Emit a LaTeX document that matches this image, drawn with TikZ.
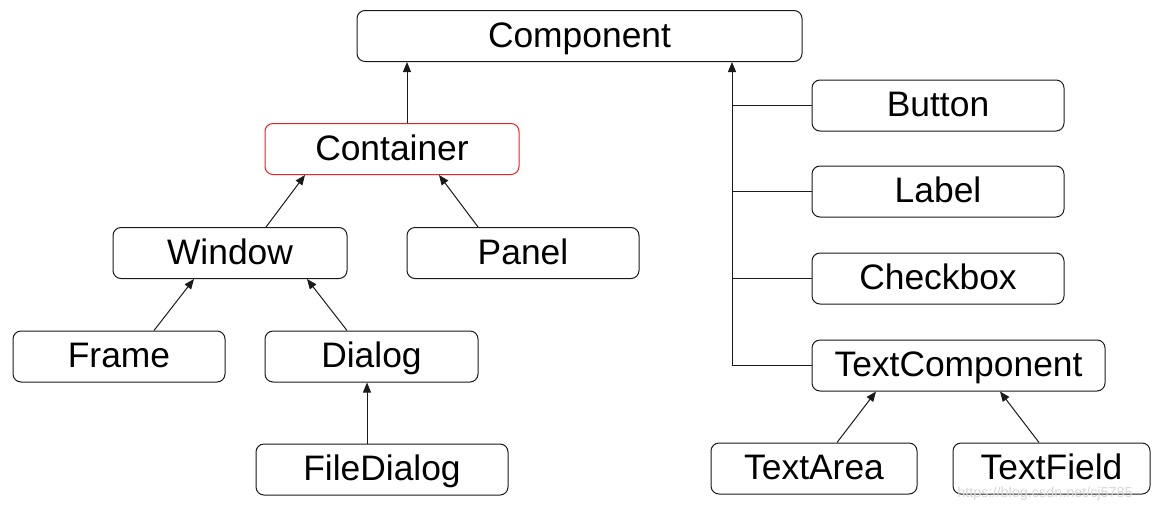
\documentclass[tikz,border=0pt]{standalone}
\usepackage{fontspec}
\setmainfont{Liberation Sans}
\usepackage{xcolor}
\usetikzlibrary{arrows.meta,calc}
\definecolor{boxline}{HTML}{1A1A1A}
\definecolor{hilite}{HTML}{F02020}
\definecolor{markgray}{HTML}{D8D8D8}

\tikzset{
  cls/.style={rounded corners=4pt,draw=boxline,line width=0.5pt,fill=white,
              minimum height=25.5pt,inner sep=0pt,text height=12.8pt,text depth=1.8pt,
              font=\fontsize{17.7}{20}\selectfont},
  arr/.style={-{Triangle[length=5pt,width=4pt]},line width=0.5pt,draw=boxline},
  bus/.style={line width=0.5pt,draw=boxline}
}

\begin{document}
\begin{tikzpicture}[x=0.5pt,y=-0.5pt]
    \useasboundingbox (0,0) rectangle (1161,509);
    % class boxes
    \node[cls,minimum width=222.5pt] (component) at (579.5,36) {Component};
    \node[cls,minimum width=127pt,draw=hilite] (container) at (392,149) {Container};
    \node[cls,minimum width=117pt] (window) at (230,253) {Window};
    \node[cls,minimum width=116pt] (panel) at (523,253) {Panel};
    \node[cls,minimum width=106pt] (frame) at (119,356.5) {Frame};
    \node[cls,minimum width=106.5pt] (dialog) at (371.5,356.5) {Dialog};
    \node[cls,minimum width=126pt] (filedialog) at (382,469.5) {FileDialog};
    \node[cls,minimum width=126pt] (button) at (938,105.5) {Button};
    \node[cls,minimum width=126pt] (label) at (938,191.5) {Label};
    \node[cls,minimum width=126pt] (checkbox) at (938,278.5) {Checkbox};
    \node[cls,minimum width=146.5pt] (textcomp) at (958.5,365.5) {TextComponent};
    \node[cls,minimum width=103pt] (textarea) at (814,468.5) {TextArea};
    \node[cls,minimum width=98.5pt] (textfield) at (1051.5,468.5) {TextField};

    % left tree
    \draw[arr] ([xshift=7.5pt]container.north) -- ([xshift=7.5pt]container.north |- component.south);
    \draw[arr] ([xshift=18pt]window.north) -- ([xshift=-43.5pt]container.south);
    \draw[arr] ([xshift=-22.5pt]panel.north) -- ([xshift=23.5pt]container.south);
    \draw[arr] ([xshift=17.5pt]frame.north) -- ([xshift=-18pt]window.south);
    \draw[arr] ([xshift=-12.25pt]dialog.north) -- ([xshift=38.5pt]window.south);
    \draw[arr] ([xshift=-2.25pt]dialog.south |- filedialog.north) -- ([xshift=-2.25pt]dialog.south);

    % right bus
    \coordinate (top) at ([xshift=76.25pt]component.south);
    \draw[arr] (top |- textcomp.west) -- (top);
    \draw[bus] (top |- button.west) -- (button.west);
    \draw[bus] (top |- label.west) -- (label.west);
    \draw[bus] (top |- checkbox.west) -- (checkbox.west);
    \draw[bus] (top |- textcomp.west) -- (textcomp.west);
    \draw[arr] ([xshift=11.5pt]textarea.north) -- ([xshift=-41.25pt]textcomp.south);
    \draw[arr] ([xshift=-6.25pt]textfield.north) -- ([xshift=20.75pt]textcomp.south);

    % watermark
    \node[anchor=base west,inner sep=0pt,text=markgray,font=\fontsize{7.2}{8}\selectfont] (mark) at (957,497) {https://blog.csdn.net/cj5785};
\end{tikzpicture}
\end{document}
